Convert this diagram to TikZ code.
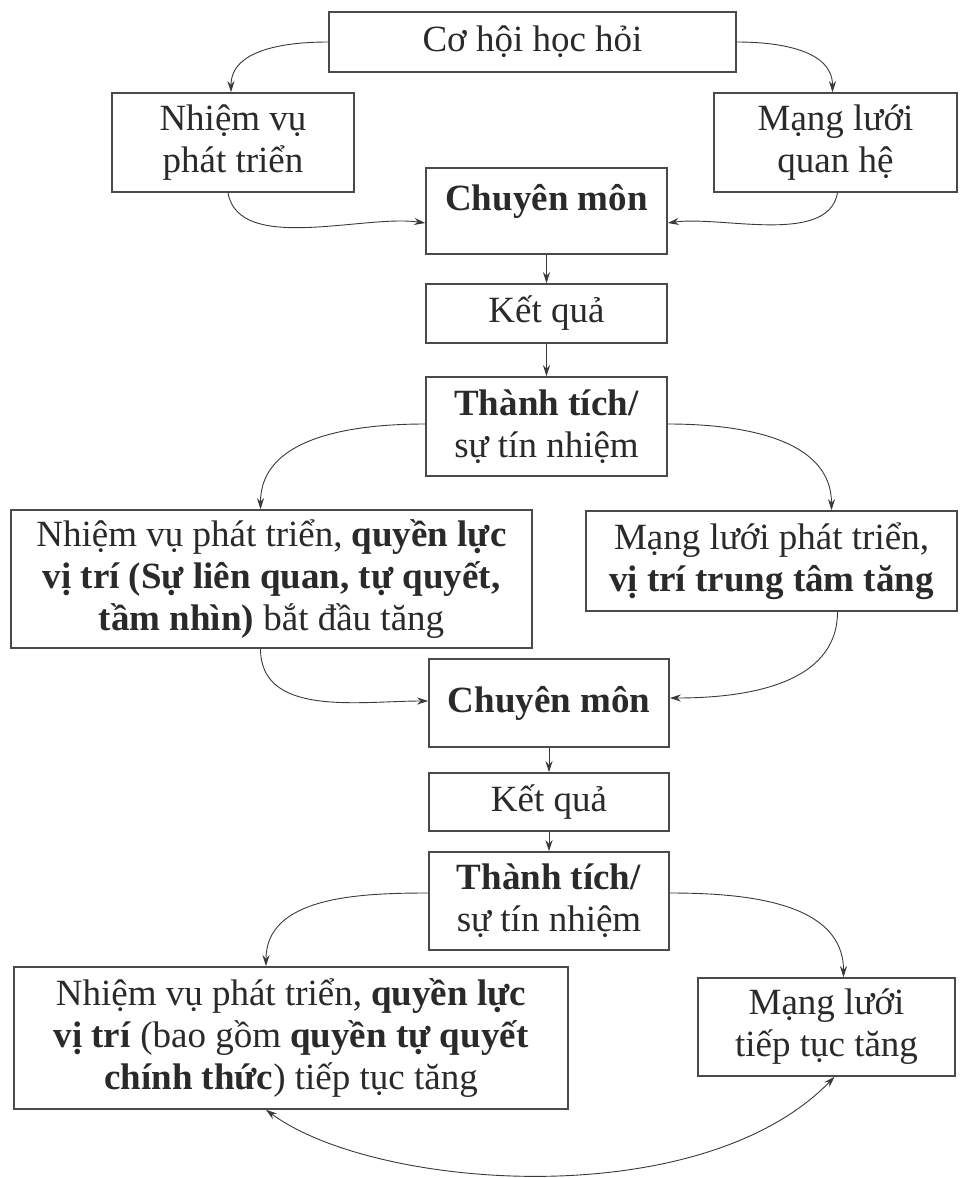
\documentclass[tikz,border=0pt]{standalone}
\usepackage{fontspec}
\setmainfont{Liberation Serif}
\usetikzlibrary{arrows.meta}
\definecolor{boxline}{HTML}{4A4A4A}
\definecolor{arrline}{HTML}{3A3A3A}
\definecolor{txt}{HTML}{2A2A2A}
\tikzset{
  box/.style={draw=boxline, line width=1.6pt, rectangle, inner sep=0pt, align=center,
    text=txt, font=\fontsize{37}{42}\selectfont},
  conn/.style={draw=arrline, line width=0.9pt, -{Stealth[length=11pt,width=7pt]}},
  conn2/.style={draw=arrline, line width=0.9pt, {Stealth[length=11pt,width=7pt]}-{Stealth[length=11pt,width=7pt]}}
}
\begin{document}
\begin{tikzpicture}[x=1pt,y=-1pt]
\useasboundingbox[fill=white] (0,0) rectangle (959,1178);
% row 1
\node[box, minimum width=407pt, minimum height=60pt] (b1) at (532.5,42) {Cơ hội học hỏi};
\node[box, minimum width=242pt, minimum height=99pt] (nv1) at (233,142.5) {Nhiệm vụ\\phát triển};
\node[box, minimum width=243pt, minimum height=99pt] (ml1) at (835.5,142.5) {Mạng lưới\\quan hệ};
\node[box, minimum width=241pt, minimum height=86pt] (cm1) at (546.5,211) {};
\node[text=txt, font=\fontsize{37}{42}\selectfont\bfseries] (cm1t) at (546.5,201) {Chuyên môn};
\node[box, minimum width=241pt, minimum height=59pt] (kq1) at (546.5,313.5) {Kết quả};
\node[box, minimum width=241pt, minimum height=99pt] (tt1) at (546.5,426.5) {\textbf{Thành tích/}\\sự tín nhiệm};
% row 2
\node[box, minimum width=521pt, minimum height=138pt] (nv2) at (271.5,579) {Nhiệm vụ phát triển, \textbf{quyền lực}\\\textbf{vị trí (Sự liên quan, tự quyết,}\\\textbf{tầm nhìn)} bắt đầu tăng};
\node[box, minimum width=371pt, minimum height=100pt] (ml2) at (771.5,561) {Mạng lưới phát triển,\\\textbf{vị trí trung tâm tăng}};
\node[box, minimum width=240pt, minimum height=88pt, font=\fontsize{37}{42}\selectfont\bfseries] (cm2) at (549,703) {Chuyên môn};
\node[box, minimum width=240pt, minimum height=58pt] (kq2) at (549,802) {Kết quả};
\node[box, minimum width=240pt, minimum height=98pt] (tt2) at (549,901) {\textbf{Thành tích/}\\sự tín nhiệm};
% row 3
\node[box, minimum width=554pt, minimum height=142pt] (nv3) at (291,1038) {Nhiệm vụ phát triển, \textbf{quyền lực}\\\textbf{vị trí} (bao gồm \textbf{quyền tự quyết}\\\textbf{chính thức}) tiếp tục tăng};
\node[box, minimum width=257pt, minimum height=98pt] (ml3) at (826.5,1027) {Mạng lưới\\tiếp tục tăng};
% connectors
\draw[conn] (b1.west) to[out=180,in=90] ([xshift=-2pt]nv1.north);
\draw[conn] (b1.east) to[out=0,in=90] ([xshift=-3pt]ml1.north);
\draw[conn] ([xshift=-5pt]nv1.south) to[out=-80,in=172,looseness=0.8] ([yshift=-12pt]cm1.west);
\draw[conn] ([xshift=2pt]ml1.south) to[out=-100,in=8,looseness=0.8] ([yshift=-12pt]cm1.east);
\draw[conn] (cm1.south) -- (kq1.north);
\draw[conn] (kq1.south) -- (tt1.north);
\draw[conn] ([yshift=2.5pt]tt1.west) to[out=180,in=90] ([xshift=-11pt]nv2.north);
\draw[conn] ([yshift=2.5pt]tt1.east) to[out=0,in=90] ([xshift=60pt]ml2.north);
\draw[conn] ([xshift=-11pt]nv2.south) to[out=-90,in=180] ([yshift=2pt]cm2.west);
\draw[conn] ([xshift=66pt]ml2.south) to[out=-90,in=0] ([yshift=5pt]cm2.east);
\draw[conn] (cm2.south) -- (kq2.north);
\draw[conn] (kq2.south) -- (tt2.north);
\draw[conn] ([yshift=8pt]tt2.west) to[out=180,in=90] ([xshift=-25pt]nv3.north);
\draw[conn] ([yshift=8pt]tt2.east) to[out=0,in=90] ([xshift=17pt]ml3.north);
\draw[conn2] ([xshift=-25pt]nv3.south) .. controls (375,1190) and (700,1215) .. ([xshift=8pt]ml3.south);
\end{tikzpicture}
\end{document}
